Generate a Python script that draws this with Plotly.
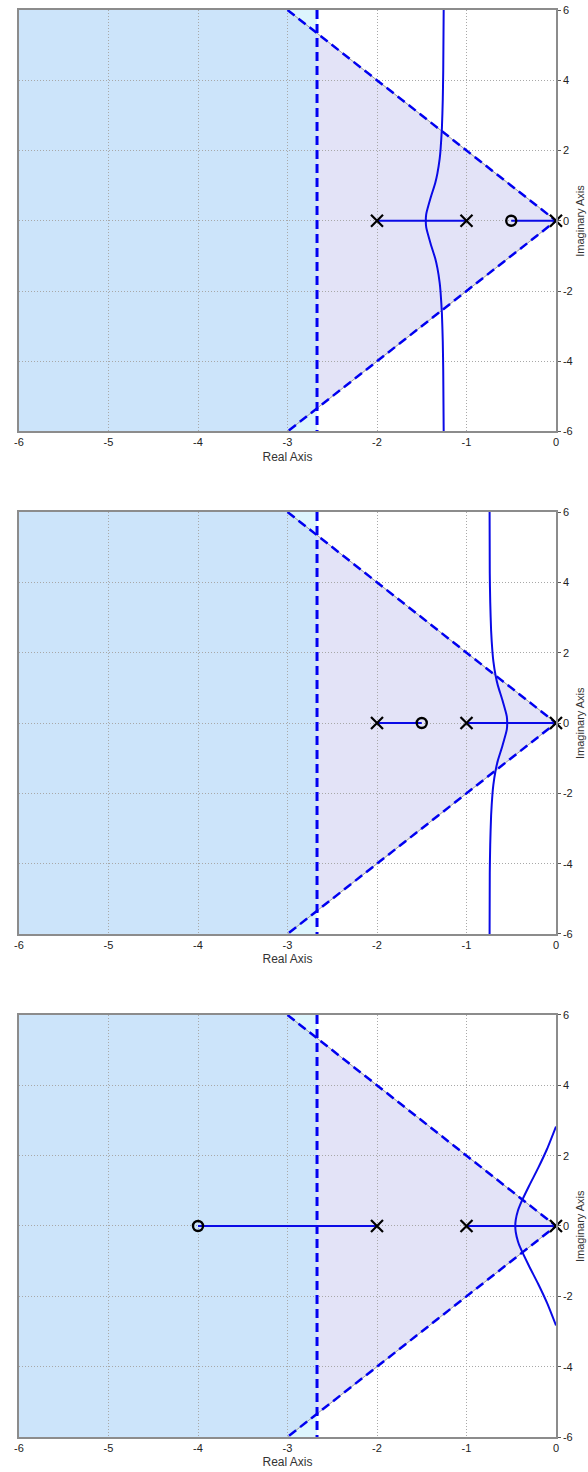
import plotly.graph_objects as go

# ---------------- data ----------------
x_ticks = [-6, -5, -4, -3, -2, -1, 0]
y_ticks = [-6, -4, -2, 0, 2, 4, 6]

poles = [0.0, -1.0, -2.0]
zeros_p1 = [-0.5]
zeros_p2 = [-1.5]
zeros_p3 = [-4.0]

# real-axis locus segments (start, end)
real_seg_p1 = [(-2.0, -1.0), (-0.5, 0.0)]
real_seg_p2 = [(-2.0, -1.5), (-1.0, 0.0)]
real_seg_p3 = [(-4.0, -2.0), (-1.0, 0.0)]

# upper complex branch (lower branch is its mirror image)
locus1_x = [-1.455, -1.45, -1.40, -1.35, -1.325, -1.30, -1.29, -1.275, -1.265, -1.26, -1.255]
locus1_y = [0.0, 0.19, 0.66, 1.07, 1.35, 1.76, 2.02, 2.63, 3.45, 4.26, 6.0]
locus2_x = [-0.545, -0.55, -0.60, -0.65, -0.675, -0.70, -0.71, -0.725, -0.735, -0.74, -0.742]
locus2_y = [0.0, 0.19, 0.66, 1.07, 1.35, 1.76, 2.02, 2.63, 3.45, 4.26, 6.0]
locus3_x = [-0.455, -0.45, -0.425, -0.40, -0.30, -0.20, -0.10, 0.0]
locus3_y = [0.0, 0.17, 0.44, 0.61, 1.145, 1.644, 2.189, 2.828]

# design constraints
sigma_limit = -2.67      # settling-time boundary (vertical dashed line)
damping_x_at_top = -3.0  # damping line reaches Im = 6 at Re = -3
x_range = [-6, 0]
y_range = [-6, 6]

panels = [
    (zeros_p1, real_seg_p1, locus1_x, locus1_y),
    (zeros_p2, real_seg_p2, locus2_x, locus2_y),
    (zeros_p3, real_seg_p3, locus3_x, locus3_y),
]

# ---------------- figure ----------------
LOCUS = "#0a0ae6"
DASH = "#0000f0"
FONT = "Liberation Sans, Arial, sans-serif"
fig = go.Figure()

domains = [[0.70463, 1.0], [0.35249, 0.64821], [0.0, 0.29573]]
shapes = []
annotations = []
slope = y_range[1] / damping_x_at_top  # Im per Re along damping line (negative)

for i, (zs, segs, lx, ly) in enumerate(panels):
    n = "" if i == 0 else str(i + 1)
    xa, ya = "x" + n, "y" + n
    y_at_sigma = slope * sigma_limit

    # background constraint regions (below grid)
    shapes.append(dict(type="rect", xref=xa, yref=ya, x0=x_range[0], x1=sigma_limit,
                       y0=y_range[0], y1=y_range[1], fillcolor="#ddf5fd",
                       line=dict(width=0), layer="below"))
    blue_path = (f"M {x_range[0]},{y_range[0]} L {x_range[0]},{y_range[1]} "
                 f"L {damping_x_at_top},{y_range[1]} L {sigma_limit},{y_at_sigma} "
                 f"L {sigma_limit},{-y_at_sigma} L {damping_x_at_top},{y_range[0]} Z")
    shapes.append(dict(type="path", xref=xa, yref=ya, path=blue_path,
                       fillcolor="#cce4fa", line=dict(width=0), layer="below"))
    lav_path = (f"M 0,0 L {sigma_limit},{y_at_sigma} L {sigma_limit},{-y_at_sigma} Z")
    shapes.append(dict(type="path", xref=xa, yref=ya, path=lav_path,
                       fillcolor="#e3e3f7", line=dict(width=0), layer="below"))

    # thin gray damping boundary under the dashed line
    fig.add_trace(go.Scatter(x=[damping_x_at_top, 0, damping_x_at_top],
                             y=[y_range[1], 0, y_range[0]], mode="lines",
                             line=dict(color="#9a9a9a", width=1),
                             xaxis=xa, yaxis=ya, showlegend=False, hoverinfo="skip"))
    # dashed damping lines
    fig.add_trace(go.Scatter(x=[damping_x_at_top, 0, damping_x_at_top],
                             y=[y_range[1], 0, y_range[0]], mode="lines",
                             line=dict(color=DASH, width=2.5, dash="9px,5px"),
                             xaxis=xa, yaxis=ya, showlegend=False, hoverinfo="skip"))
    # dashed settling-time line
    fig.add_trace(go.Scatter(x=[sigma_limit, sigma_limit], y=[y_range[1], y_range[0]],
                             mode="lines", line=dict(color=DASH, width=3, dash="9px,5px"),
                             xaxis=xa, yaxis=ya, showlegend=False, hoverinfo="skip"))

    # real-axis locus segments
    for (a, b) in segs:
        fig.add_trace(go.Scatter(x=[a, b], y=[0, 0], mode="lines",
                                 line=dict(color=LOCUS, width=2),
                                 xaxis=xa, yaxis=ya, showlegend=False))
    # complex branches (conjugate pair)
    bx = list(reversed(lx)) + lx[1:]
    by = [-v for v in reversed(ly)] + ly[1:]
    fig.add_trace(go.Scatter(x=bx, y=by, mode="lines",
                             line=dict(color=LOCUS, width=2, shape="spline", smoothing=0.6),
                             xaxis=xa, yaxis=ya, showlegend=False))

    # poles and zeros
    fig.add_trace(go.Scatter(x=poles, y=[0] * len(poles), mode="markers",
                             marker=dict(symbol="x-thin-open", size=12, color="black",
                                         line=dict(color="black", width=2.2)),
                             xaxis=xa, yaxis=ya, showlegend=False, cliponaxis=False))
    fig.add_trace(go.Scatter(x=zs, y=[0] * len(zs), mode="markers",
                             marker=dict(symbol="circle-open", size=10, color="black",
                                         line=dict(color="black", width=2.4)),
                             xaxis=xa, yaxis=ya, showlegend=False, cliponaxis=False))

    # y-axis title as rotated annotation on the right
    annotations.append(dict(text="Imaginary Axis", xref="paper", yref="paper",
                            x=1.0, xshift=24, y=sum(domains[i]) / 2,
                            textangle=-90, showarrow=False, xanchor="center",
                            yanchor="middle",
                            font=dict(family=FONT, size=11, color="#333")))

axis_font = dict(family=FONT, size=11, color="#222")
title_font = dict(family=FONT, size=12, color="#333")

layout = dict(
    width=588, height=1472,
    margin=dict(l=19, r=32, t=10, b=35, autoexpand=False),
    paper_bgcolor="white", plot_bgcolor="white",
    shapes=shapes, annotations=annotations, showlegend=False,
)
for i in range(3):
    n = "" if i == 0 else str(i + 1)
    layout["xaxis" + n] = dict(
        domain=[0, 1], anchor="y" + n, range=x_range, tickvals=x_ticks,
        ticktext=[str(v) for v in x_ticks], automargin=False,
        showgrid=True, gridcolor="#a8a8a8", griddash="1px,2px", gridwidth=1,
        zeroline=False, showline=True, linecolor="#8c8c8c", linewidth=1.5, mirror=True,
        ticks="", tickfont=axis_font,
        title=dict(text="Real Axis", font=title_font, standoff=5),
    )
    layout["yaxis" + n] = dict(
        domain=domains[i], anchor="x" + n, side="right", range=y_range,
        tickvals=y_ticks, ticktext=[str(v) for v in y_ticks], automargin=False,
        showgrid=True, gridcolor="#a8a8a8", griddash="1px,2px", gridwidth=1,
        zeroline=False, showline=True, linecolor="#8c8c8c", linewidth=1.5, mirror=True,
        ticks="outside", ticklen=3, tickcolor="#555", tickfont=axis_font,
    )
fig.update_layout(**layout)

fig.write_html("out.html",
               config={"displayModeBar": False},
               post_script="document.body.style.margin='0';document.body.style.padding='0';"
                           "document.body.style.overflow='hidden';")
